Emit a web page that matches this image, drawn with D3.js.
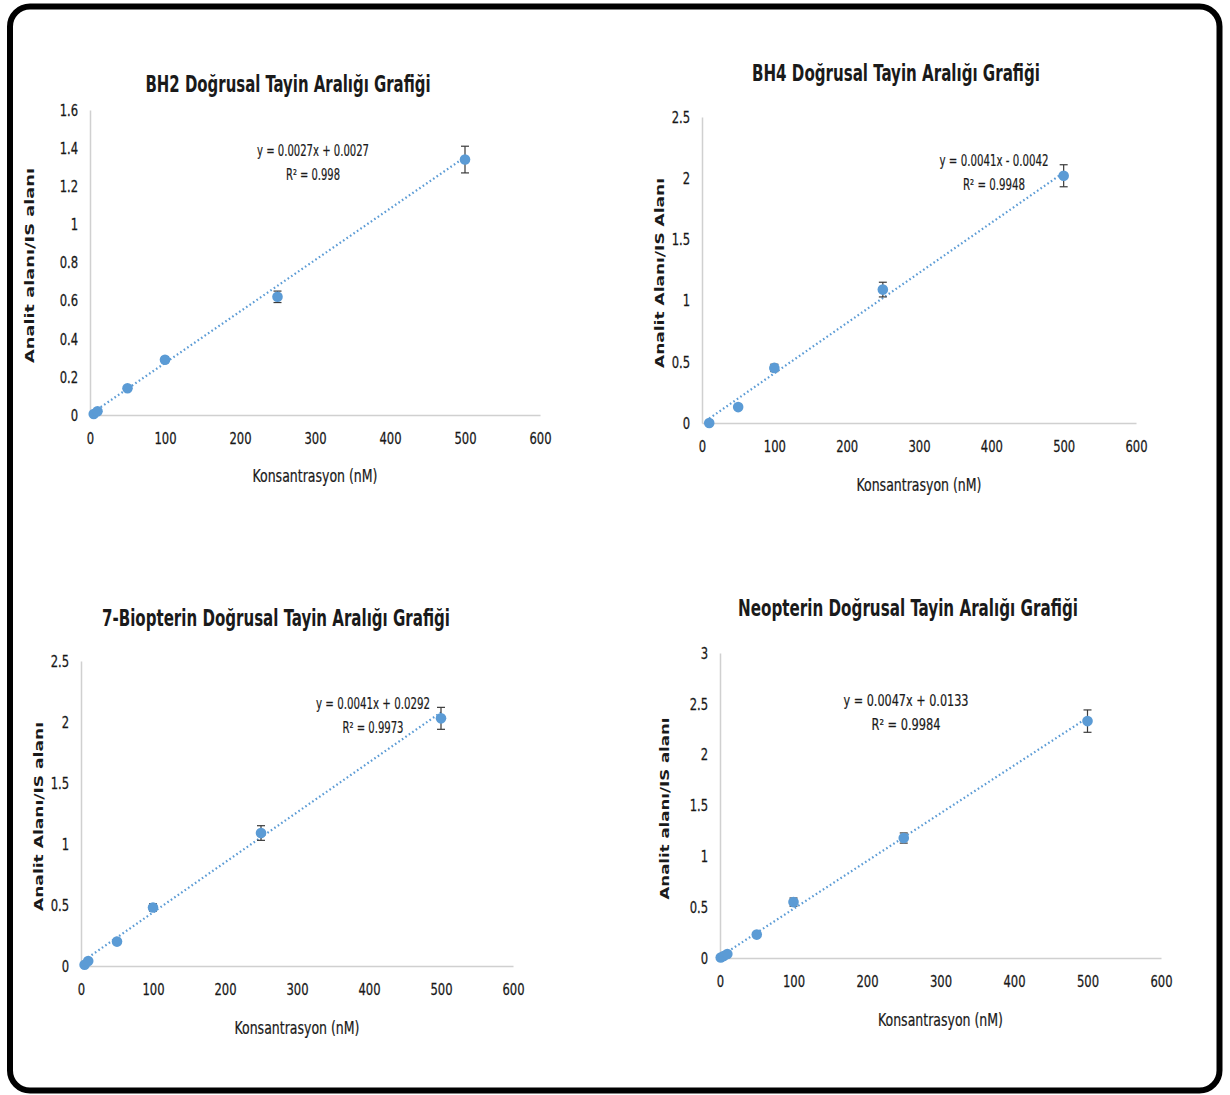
<!DOCTYPE html>
<html>
<head>
<meta charset="utf-8">
<script src="https://cdn.jsdelivr.net/npm/d3@7"></script>
<style>
  body { margin: 0; background: #fff; }
  svg text { fill: #1a1a1a; }
</style>
</head>
<body>
<svg id="chart" width="1230" height="1095"></svg>
<script>
// Concentrations (nM) and area ratios
const concBH2 = [5, 10, 50, 100, 250, 500];
const areaBH2 = [0.005, 0.02, 0.14, 0.29, 0.62, 1.34];
const errBH2 = [0.005, 0.005, 0.01, 0.015, 0.03, 0.07];

const concBH4 = [10, 50, 100, 250, 500];
const areaBH4 = [0.0, 0.13, 0.45, 1.09, 2.02];
const errBH4 = [0.005, 0.01, 0.03, 0.06, 0.09];

const concBio = [5, 10, 50, 100, 250, 500];
const areaBio = [0.01, 0.04, 0.2, 0.48, 1.09, 2.03];
const errBio = [0.005, 0.005, 0.01, 0.03, 0.06, 0.09];

const concNeo = [1, 5, 10, 50, 100, 250, 500];
const areaNeo = [0.005, 0.02, 0.04, 0.23, 0.55, 1.18, 2.33];
const errNeo = [0.005, 0.005, 0.005, 0.01, 0.04, 0.05, 0.11];

// Trendline equations shown on the charts
const fitBH2 = { slope: 0.0027, intercept: 0.0027, eq: "y = 0.0027x + 0.0027", r2: "R² = 0.998" };
const fitBH4 = { slope: 0.0041, intercept: -0.0042, eq: "y = 0.0041x - 0.0042", r2: "R² = 0.9948" };
const fitBio = { slope: 0.0041, intercept: 0.0292, eq: "y = 0.0041x + 0.0292", r2: "R² = 0.9973" };
const fitNeo = { slope: 0.0047, intercept: 0.0133, eq: "y = 0.0047x + 0.0133", r2: "R² = 0.9984" };

const xTicks = [0, 100, 200, 300, 400, 500, 600];

const titles = [
  "BH2 Doğrusal Tayin Aralığı Grafiği",
  "BH4 Doğrusal Tayin Aralığı Grafiği",
  "7-Biopterin Doğrusal Tayin Aralığı Grafiği",
  "Neopterin Doğrusal Tayin Aralığı Grafiği"
];
const yLabels = [
  "Analit alanı/IS alanı",
  "Analit Alanı/IS Alanı",
  "Analit Alanı/IS alanı",
  "Analit alanı/IS alanı"
];
const xLabel = "Konsantrasyon  (nM)";

const narrow = "'DejaVu Sans Condensed', 'Liberation Sans Narrow', sans-serif";
const blue = "#5b9bd5";
const squeeze = 0.78; // tick labels are a narrow face in the original

const svg = d3.select("#chart");

// outer rounded frame
svg.append("rect")
  .attr("x", 10).attr("y", 6.5)
  .attr("width", 1209.5).attr("height", 1084)
  .attr("rx", 20).attr("ry", 20)
  .attr("fill", "#fff")
  .attr("stroke", "#000")
  .attr("stroke-width", 6);

// layout of each panel on the page (tw, ew, rw, xw, yw = text widths)
const panels = [
  { conc: concBH2, area: areaBH2, err: errBH2, fit: fitBH2, yMax: 1.6, yStep: 0.2,
    xr: [90, 540], yr: [415, 110], titleXY: [288, 92], tw: 285, eqXY: [313, 156], ew: 112, rw: 54,
    ylabX: 34, yw: 195, xlabY: 482, xw: 125 },
  { conc: concBH4, area: areaBH4, err: errBH4, fit: fitBH4, yMax: 2.5, yStep: 0.5,
    xr: [702, 1136], yr: [423, 117], titleXY: [896, 81], tw: 288, eqXY: [994, 166], ew: 109, rw: 62,
    ylabX: 664, yw: 190, xlabY: 491, xw: 125 },
  { conc: concBio, area: areaBio, err: errBio, fit: fitBio, yMax: 2.5, yStep: 0.5,
    xr: [81, 513], yr: [966, 661], titleXY: [276, 626], tw: 348, eqXY: [373, 709], ew: 114, rw: 61,
    ylabX: 43, yw: 189, xlabY: 1034, xw: 125 },
  { conc: concNeo, area: areaNeo, err: errNeo, fit: fitNeo, yMax: 3, yStep: 0.5,
    xr: [720, 1161], yr: [958, 653], titleXY: [908, 616], tw: 340, eqXY: [906, 706], ew: 125, rw: 69,
    ylabX: 669, yw: 182, xlabY: 1026, xw: 125 }
];

function fit(sel, w) {
  return sel.attr("textLength", w).attr("lengthAdjust", "spacingAndGlyphs");
}

panels.forEach((p, i) => {
  const g = svg.append("g");
  const x = d3.scaleLinear().domain([0, 600]).range(p.xr);
  const y = d3.scaleLinear().domain([0, p.yMax]).range(p.yr);
  const yTicks = d3.range(0, p.yMax + 1e-9, p.yStep);

  // x axis
  const gx = g.append("g")
    .attr("transform", `translate(0,${p.yr[0]})`)
    .call(d3.axisBottom(x).tickValues(xTicks).tickSize(0).tickPadding(17).tickFormat(d3.format("d")));
  // y axis
  const gy = g.append("g")
    .attr("transform", `translate(${p.xr[0]},0)`)
    .call(d3.axisLeft(y).tickValues(yTicks).tickSize(0).tickPadding(12).tickFormat(d => +d.toFixed(1)));

  [gx, gy].forEach(a => {
    a.select(".domain").attr("stroke", "#d0d0d0").attr("stroke-width", 1.5);
    a.selectAll("text")
      .attr("font-family", narrow)
      .attr("font-size", "16.5px")
      .attr("fill", "#111")
      .attr("stroke", "#111")
      .attr("stroke-width", 0.25)
      .attr("transform", `scale(${squeeze},1)`);
  });
  gy.selectAll("text").attr("x", -12 / squeeze);

  // trendline from the fitted equation
  const xs = d3.extent(p.conc);
  g.append("path")
    .attr("fill", "none")
    .attr("stroke", blue)
    .attr("stroke-width", 2.2)
    .attr("stroke-dasharray", "1.6,2.6")
    .attr("d", d3.line()
      .x(d => x(d))
      .y(d => y(p.fit.slope * d + p.fit.intercept))(xs));

  const pts = p.conc.map((c, k) => ({ c: c, v: p.area[k], e: p.err[k] }));

  // error bars
  const eb = g.selectAll(".eb").data(pts).enter().append("g")
    .attr("stroke", "#3a3a3a").attr("stroke-width", 1.2);
  eb.append("line")
    .attr("x1", d => x(d.c)).attr("x2", d => x(d.c))
    .attr("y1", d => y(d.v - d.e)).attr("y2", d => y(d.v + d.e));
  eb.append("line")
    .attr("x1", d => x(d.c) - 4).attr("x2", d => x(d.c) + 4)
    .attr("y1", d => y(d.v + d.e)).attr("y2", d => y(d.v + d.e));
  eb.append("line")
    .attr("x1", d => x(d.c) - 4).attr("x2", d => x(d.c) + 4)
    .attr("y1", d => y(d.v - d.e)).attr("y2", d => y(d.v - d.e));

  // markers
  g.selectAll(".pt").data(pts).enter().append("circle")
    .attr("cx", d => x(d.c))
    .attr("cy", d => y(d.v))
    .attr("r", 5.3)
    .attr("fill", blue);

  // title
  fit(g.append("text")
    .attr("x", p.titleXY[0]).attr("y", p.titleXY[1])
    .attr("text-anchor", "middle")
    .attr("font-family", narrow)
    .attr("font-weight", "bold")
    .attr("font-size", "23px")
    .text(titles[i]), p.tw);

  // equation + R²
  fit(g.append("text")
    .attr("x", p.eqXY[0]).attr("y", p.eqXY[1])
    .attr("text-anchor", "middle")
    .attr("font-family", narrow)
    .attr("font-size", "16px")
    .attr("stroke", "#111").attr("stroke-width", 0.2)
    .text(p.fit.eq), p.ew);
  fit(g.append("text")
    .attr("x", p.eqXY[0]).attr("y", p.eqXY[1] + 24)
    .attr("text-anchor", "middle")
    .attr("font-family", narrow)
    .attr("font-size", "16px")
    .attr("stroke", "#111").attr("stroke-width", 0.2)
    .text(p.fit.r2), p.rw);

  // axis titles
  fit(g.append("text")
    .attr("x", (p.xr[0] + p.xr[1]) / 2).attr("y", p.xlabY)
    .attr("text-anchor", "middle")
    .attr("font-family", narrow)
    .attr("font-size", "17px")
    .attr("stroke", "#111").attr("stroke-width", 0.2)
    .text(xLabel), p.xw);

  fit(g.append("text")
    .attr("transform", `translate(${p.ylabX},${(p.yr[0] + p.yr[1]) / 2 + 3}) rotate(-90)`)
    .attr("text-anchor", "middle")
    .attr("font-family", "'DejaVu Sans', Verdana, sans-serif")
    .attr("font-weight", "bold")
    .attr("font-size", "13px")
    .text(yLabels[i]), p.yw);
});
</script>
</body>
</html>
